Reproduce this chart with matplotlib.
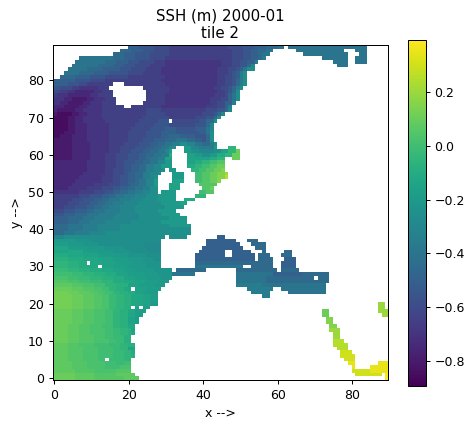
import re
import numpy as np
import matplotlib
matplotlib.use('Agg')
import matplotlib.pyplot as plt

# sea surface height classes (m), one letter each, capitals are the half steps
LEVEL_KEYS = 'abcdefghijklmnopqrstuvwxyz' + 'LMNOPQRST'
LEVEL_VALUES = [-0.85, -0.80, -0.75, -0.70, -0.65, -0.60, -0.55, -0.50, -0.45,
                -0.40, -0.35, -0.30, -0.25, -0.20, -0.15, -0.10, -0.05, 0.0,
                0.05, 0.10, 0.15, 0.20, 0.25, 0.30, 0.35, 0.38,
                -0.275, -0.225, -0.175, -0.125, -0.075, -0.025, 0.025, 0.075, 0.125]

# one line per row, y=89 first. "22h" = level h up to and including column 22,
# "19." = land up to and including column 19
SSH_ROWS = [
    "19. 22h 26g 30f 46e 50f 53g 56h 59i 61j 62. 83j",
    "17. 20i 23h 26g 30f 47e 50f 52g 54h 56i 58j 64. 77j 80. 83j",
    "15. 18i 21h 25g 30f 47e 50f 52g 54h 55i 57j 66. 78j 81. 83j",
    "6. 15j 18i 21h 25g 29f 47e 50f 52g 54h 55i 56k 71. 78j 80. 83j",
    "5. 13j 16i 19h 22g 26f 29e 44d 47e 49f 51g 53h 54k 74. 78j 80. 83j",
    "4. 11j 15i 18h 21g 25f 29e 44d 47e 49f 51g 52i 53l 75. 78j",
    "3. 8j 12i 17h 20g 24f 28e 43d 46e 48f 49g 50h 51j 53m",
    "2. 6j 10i 14h 19g 23f 28e 43d 46e 47f 48g 49h 50k 51m",
    "1. 5i 9h 13g 19f 29e 43d 45e 47f 48g 49h 50k 51m",
    "5h 9g 13f 28e 43d 45e 47f 48g 49i 50k 51m",
    "3h 6g 8f 15e 18. 29e 43d 45e 47f 48g 49i 50k 51m",
    "1g 4f 6e 11d 14e 23. 30e 42d 44e 46f 47g 48i 49k 50m",
    "1f 3e 5d 10c 12d 15e 24. 30e 43d 45e 46f 47g 48i 49m",
    "0e 3d 9c 11d 15e 24. 29e 42d 45e 46f 47h 48j 49m",
    "2d 4c 8b 10c 13d 16e 24. 29e 41d 44e 46f 47h 48j 49m",
    "1d 3c 7b 9c 12d 16e 23. 29e 41d 43e 45f 47h 48k",
    "2c 6b 8c 12d 18e 20. 28e 40d 43e 45f 46h 47k",
    "0c 5b 7c 12d 24e 28f 40e 43f 45g 46i 47l",
    "0b 4a 6b 8c 12d 24e 29f 39e 42f 43g 44i 45l",
    "3a 5b 7c 12d 23e 30f 37e 40f 42g 43i 44m",
    "3a 5b 7c 13d 22e 27f 30g 31. 38f 40g 42i 43m",
    "3a 5b 8c 14d 21e 26f 30g 37f 40g 41i 42l",
    "3a 5b 8c 14d 20e 25f 29g 32h 37g 40h 41j 42l",
    "2a 5b 8c 14d 19e 24f 28g 32h 38g 40h 41j 42m",
    "1a 4b 8c 14d 19e 24f 28g 30h 33i 37h 40g 41i 42m",
    "4b 8c 14d 19e 23f 26g 29h 32i 35j 37i 39h 40g 41i 42m",
    "4b 9c 14d 18e 22f 25g 27h 29i 31j 33k 35m 37l 39j 41i 42k 43m",
    "4b 9c 14d 17e 21f 24g 26h 28i 30j 31l 32m 34. 36n 38l 40k 42k 43n 46. 48q",
    "4b 9c 14d 17e 20f 23g 25h 27i 29j 30l 31n 34. 36n 38m 40l 42l 44m 46o 48q 49t",
    "4b 9c 13d 16e 19f 22g 24h 26i 28j 30k 31p 35. 37o 39n 41m 43n 45p 47q 49t",
    "4b 9c 13d 16e 19f 22g 24h 25i 27j 29k 31o 35. 37o 39o 41o 43p 45q 47. 49t",
    "8c 13d 16e 18f 21g 23h 25i 27j 29l 31n 35. 37o 39p 41q 43r 45s",
    "8c 13d 16e 18f 20g 22h 24i 26k 28l 31n 35. 37p 39q 41r 43s 45t",
    "8c 13d 15e 18f 20g 22h 24i 26k 28l 29m 30. 32n 36. 38q 40r 42s 44t 45u",
    "7c 13d 15e 18f 19g 21h 23i 25k 27l 28m 31. 34n 37. 39r 41s 43t 45u 46v",
    "6c 12d 15e 17f 19g 21h 23i 25k 26l 27m 31. 34n 37. 39r 41s 43t 45u 46w",
    "5c 12d 15e 17f 19g 21h 22i 24j 26l 27n 31. 34o 37. 39r 41s 43t 44u",
    "4c 10d 14e 17f 19g 20h 22i 24j 26l 27n 30. 33o 38. 40s 43s",
    "3c 8d 12e 15f 17g 19h 21i 23j 25k 27m 30. 33o 39. 41s 42t",
    "6d 10e 13f 15g 17h 19i 21j 23k 25l 27m 28. 32n 38. 40r 42s",
    "6e 9f 12g 14h 16i 18j 21k 24l 27m 32n 37. 40q",
    "4e 7f 10g 12h 14i 17j 20k 23l 27m 32n 34. 37p",
    "3e 6f 9g 11h 13i 15j 18k 22l 28m 33n 35o",
    "2e 5f 8g 10h 12i 14j 17k 21l 29m 34n",
    "2f 5g 8h 10i 13j 17k 21l 27m 32n",
    "2g 5h 8i 11j 16k 22l 28m 33n",
    "3h 7i 10j 15k 22l 30m 35n",
    "3h 6i 9j 13k 20l 28m 35n",
    "3i 7j 11k 17l 30m 36n",
    "3i 7j 11k 17l 28m 36m",
    "2i 5j 9k 13l 26m 36m",
    "2l 29m 30. 35m 43. 45h",
    "5n 9M 18m 28m 40. 48h 51. 54i",
    "3N 7n 11M 23m 28L 40. 49h 52. 56i",
    "3O 8N 13n 18M 24m 28L 39. 50h 53. 56i",
    "3o 7O 11N 15n 20M 25m 28L 38. 45h 47. 52h 55. 56i 61. 63i",
    "3p 7O 11o 15N 19n 24M 28m 37. 45h 47. 53h 54. 57i 60. 63i",
    "3P 7p 11O 15o 19N 23n 26M 28m 37. 53h 54. 58i 61. 64h",
    "3q 6P 8p 9. 12O 16o 20N 24n 28M 37. 58i 60. 64h",
    "3q 6P 9p 11O 12. 15o 19N 24n 28M 37. 50j 52. 58i 60. 64h",
    "3Q 6q 9P 12p 15O 18o 21N 26n 31M 32. 40i 48. 59i 60. 65i",
    "4r 7Q 10q 13P 16p 19o 23N 27n 31M 37j 48. 58j 66h 73i",
    "3R 6r 9Q 12q 15P 18p 21o 24N 28n 31M 48. 56j 66i 69i 70. 73i",
    "3s 6R 9r 12Q 15q 18p 21O 24o 27N 30n 48. 56j 66i 73i",
    "4S 7s 10R 13r 16q 19P 22o 26N 29n 48. 55k 72j",
    "4t 7S 10s 12R 14r 16q 18P 20O 21. 24o 28N 51. 58k 60. 72j",
    "3T 6t 9S 11s 13R 15r 17q 19P 21p 23o 25N 27n 52. 57k 62. 72j",
    "4T 7t 10S 12s 14R 16Q 18q 20P 23O 25o 27N 55. 57k",
    "4T 7t 10S 12s 14R 16Q 18q 20P 23O 25o 27N",
    "4T 7t 10S 12s 14R 16Q 18q 20P 23O 25o 27n 86. 88v",
    "4T 7t 10S 12s 14R 16Q 18q 20P 21. 22o 23. 25N 86. 88v",
    "4t 7S 10s 13R 15r 17q 19P 21O 24N 71. 73t 86. 89v",
    "4t 7S 10s 13R 15r 17q 19P 21O 23N 71. 73t 87. 89v",
    "4t 7S 10s 13R 15r 17q 19P 21o 22N 72. 74u",
    "4t 7S 10s 13R 15r 17q 19P 21o 22N 72. 74u",
    "3t 6S 9s 12R 15r 17q 19P 21O 73. 75u",
    "3t 6S 9s 13R 15r 17Q 19q 20P 21o 73. 76v",
    "3t 6S 9s 13R 15r 17Q 19q 20P 21O 74. 76v",
    "3t 6S 10s 13R 15r 18Q 20P 74. 76v",
    "3t 6S 10s 14R 16r 18Q 20P 74. 77w",
    "3S 6s 10R 14r 17Q 19q 21P 74. 78w",
    "3S 7s 11R 15r 17Q 19q 21o 75. 78w",
    "3S 7s 11R 15r 18Q 20q 21p 76. 79x",
    "3S 7s 11R 15r 18Q 20q 21P 76. 80x",
    "3S 7s 11R 13r 14. 18Q 20q 77. 80x",
    "4S 8s 13R 16r 18Q 20r 78. 80y 86. 89y",
    "4S 8s 13R 17r 20R 79. 80y 84. 89y",
    "5S 10s 16R 20s 79. 84x 89y",
    "5t 10S 16s 21S 80. 87x 88. 89z",
    "5t 10S 18s 22S 88. 89z",
]

COLORBAR_TICKS = [-0.8, -0.6, -0.4, -0.2, 0.0, 0.2]
SSH_MIN = -0.893
SSH_MAX = 0.394


def rows_to_grid(rows):
    grid = np.full((len(rows), 90), np.nan)
    for i, row in enumerate(rows):
        start = 0
        for end, key in re.findall(r'(\d+)([a-zA-Z.])', row):
            end = int(end) + 1
            if key != '.':
                grid[i, start:end] = LEVEL_VALUES[LEVEL_KEYS.index(key)]
            start = end
    return grid[::-1]


ssh = np.ma.masked_invalid(rows_to_grid(SSH_ROWS))

W, H = 473, 429
fig = plt.figure(figsize=(W / 90, H / 90), dpi=90)
ax = fig.add_axes([52.5 / W, 1 - 380.0 / H, 335.0 / W, 335.0 / H])
im = ax.imshow(ssh, origin='lower', cmap='viridis', vmin=SSH_MIN, vmax=SSH_MAX, interpolation='nearest')
ax.set_title('SSH (m) 2000-01\ntile 2')
ax.set_xlabel('x -->')
ax.set_ylabel('y -->')
ax.set_xticks(range(0, 90, 20))
ax.set_yticks(range(0, 90, 10))

cax = fig.add_axes([407.5 / W, 1 - 386.0 / H, 18.0 / W, 346.0 / H])
cbar = fig.colorbar(im, cax=cax)
cbar.set_ticks(COLORBAR_TICKS)

fig.savefig('out.png', dpi=90)
